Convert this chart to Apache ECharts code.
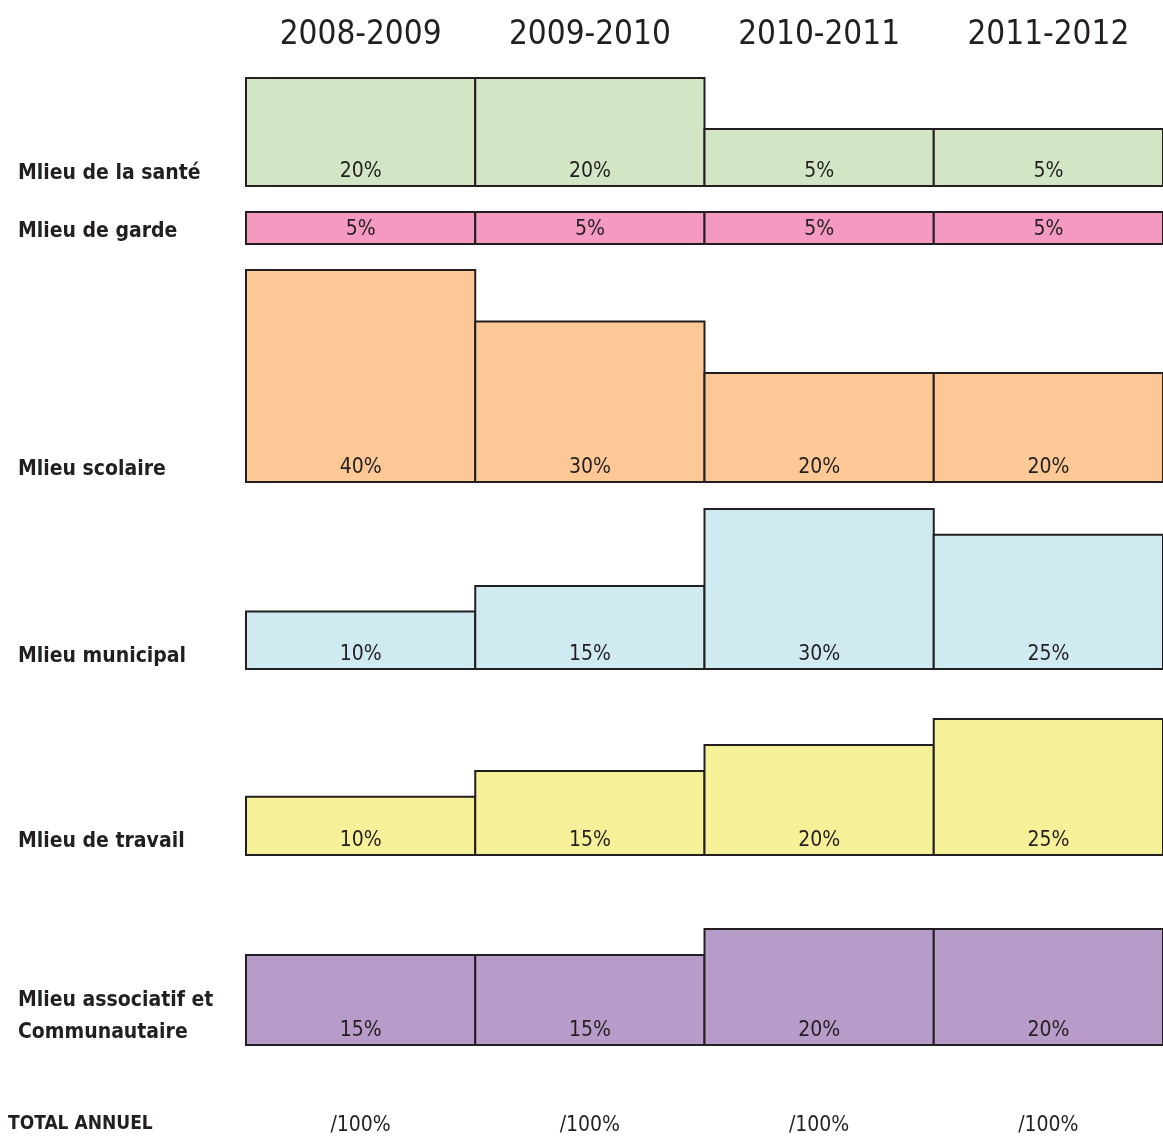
<!DOCTYPE html>
<html>
<head>
<meta charset="utf-8">
<script src="https://cdn.jsdelivr.net/npm/echarts@6/dist/echarts.min.js"></script>
<style>
    html, body { margin: 0; padding: 0; background: #fff; }
    #chart { width: 1163px; height: 1136px; }
</style>
</head>
<body>
<div id="chart"></div>
<script>
    // years across the top
    var years = ['2008-2009', '2009-2010', '2010-2011', '2011-2012'];
    // one row per milieu
    var milieux = ['Mlieu de la santé', 'Mlieu de garde', 'Mlieu scolaire', 'Mlieu municipal',
        'Mlieu de travail', 'Mlieu associatif et\nCommunautaire'];
    var sante = [20, 20, 5, 5];
    var garde = [5, 5, 5, 5];
    var scolaire = [40, 30, 20, 20];
    var municipal = [10, 15, 30, 25];
    var travail = [10, 15, 20, 25];
    var associatif = [15, 15, 20, 20];
    var totalLabel = 'TOTAL ANNUEL';

    var values = [sante, garde, scolaire, municipal, travail, associatif];
    var colors = ['#d2e6c6', '#f49ac1', '#fbc896', '#cfebf1', '#f6f199', '#b79bc8'];

    // layout of each row (px) and y range
    var rowTop = [78, 212, 270, 509, 719, 929];
    var rowHeight = [108, 32, 212, 160, 136, 116];
    var yMin = [-11.8, 0, -1.2, -1.2, -1.2, -2.3];
    var yMax = [20, 5, 40, 30, 25, 20];
    var labelTop = [158, 216, 454, 641, 826, 985];

    var font = '"DejaVu Sans Condensed", "Liberation Sans", sans-serif';
    var ink = '#231f20';

    // column totals for the bottom line
    var totals = years.map(function (y, i) {
        var s = 0;
        values.forEach(function (v) { s += v[i]; });
        return '/' + s + '%';
    });

    // bars rise from the bottom of their row
    function renderBar(params, api) {
        var cs = params.coordSys;
        var top = api.coord([api.value(0), api.value(1)]);
        var w = api.size([1, 0])[0];
        var x0 = top[0] - w / 2;
        var y1 = cs.y + cs.height;
        return {
            type: 'group',
            children: [{
                type: 'rect',
                shape: {x: x0, y: top[1], width: w, height: y1 - top[1]},
                style: {fill: colors[params.seriesIndex], stroke: ink, lineWidth: 2}
            }, {
                type: 'text',
                style: {
                    text: api.value(1) + '%', x: top[0], y: y1 - 4,
                    align: 'center', verticalAlign: 'bottom',
                    font: '21px ' + font, fill: ink
                }
            }]
        };
    }

    var grids = [], xAxes = [], yAxes = [], series = [], titles = [];
    values.forEach(function (data, r) {
        grids.push({left: 246, width: 926, top: rowTop[r], height: rowHeight[r]});
        var xa = {
            type: 'category', gridIndex: r, data: years,
            axisLine: {show: false}, axisTick: {show: false}, axisLabel: {show: false}
        };
        if (r === 0) {
            xa.position = 'top';
            xa.axisLabel = {show: true, fontSize: 33, margin: 26, color: ink, fontFamily: font};
        }
        if (r === values.length - 1) {
            xa.axisLabel = {
                show: true, margin: 70, fontSize: 21, color: ink, fontFamily: font,
                formatter: function (v, i) { return totals[i]; }
            };
        }
        xAxes.push(xa);
        yAxes.push({
            type: 'value', gridIndex: r, min: yMin[r], max: yMax[r],
            show: false, splitLine: {show: false}
        });
        series.push({
            type: 'custom', xAxisIndex: r, yAxisIndex: r,
            data: data.map(function (v, i) { return [i, v]; }),
            renderItem: renderBar,
            clip: false,
            silent: true
        });
        titles.push({
            text: milieux[r], left: 18, top: labelTop[r], padding: 0,
            textStyle: {fontSize: 21, fontWeight: 'bold', color: ink, fontFamily: font, lineHeight: 32}
        });
    });
    titles.push({
        text: totalLabel, left: 8, top: 1115, padding: 0,
        textStyle: {fontSize: 19, fontWeight: 'bold', color: ink, fontFamily: font}
    });

    var chart = echarts.init(document.getElementById('chart'));
    chart.setOption({
        animation: false,
        title: titles,
        grid: grids,
        xAxis: xAxes,
        yAxis: yAxes,
        series: series
    });
</script>
</body>
</html>
